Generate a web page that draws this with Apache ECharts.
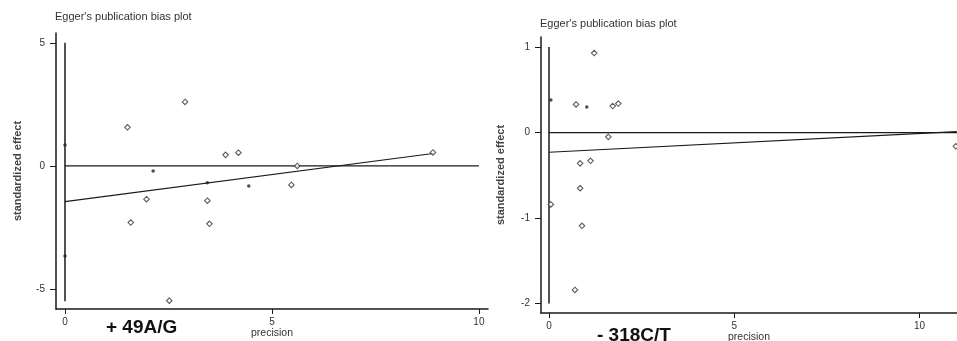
<!DOCTYPE html>
<html>
<head>
<meta charset="utf-8">
<script src="https://cdn.jsdelivr.net/npm/echarts@6/dist/echarts.min.js"></script>
<style>
html,body{margin:0;padding:0;background:#fff;}
#c{width:957px;height:341px;}
</style>
</head>
<body>
<div id="c"></div>
<script>
// ---- Left panel (+49A/G) ----
const leftOpenX = [1.51, 2.90, 1.97, 1.59, 3.44, 3.49, 3.88, 4.19, 5.47, 5.61, 2.52, 8.89];
const leftOpenY = [1.57, 2.60, -1.35, -2.30, -1.41, -2.35, 0.45, 0.54, -0.77, 0.0, -5.47, 0.55];
const leftDotX = [0.0, 0.0, 2.13, 3.44, 4.44];
const leftDotY = [0.85, -3.66, -0.20, -0.68, -0.81];
const leftCI = [5.0, -5.5];          // vertical bar at precision 0
const leftReg = [-1.45, 0.22];       // intercept, slope
const leftRegX = [0, 8.89];
const leftZeroX = [0, 10];
const leftYTicks = [-5, 0, 5];
const leftXTicks = [0, 5, 10];

// ---- Right panel (-318C/T) ----
const rightOpenX = [1.22, 0.73, 1.72, 1.87, 1.60, 0.84, 1.12, 0.84, 0.05, 0.89, 0.70, 10.98];
const rightOpenY = [0.93, 0.33, 0.31, 0.34, -0.05, -0.36, -0.33, -0.65, -0.84, -1.09, -1.84, -0.16];
const rightDotX = [0.05, 1.02];
const rightDotY = [0.38, 0.30];
const rightCI = [1.0, -2.0];
const rightReg = [-0.23, 0.022];
const rightRegX = [0, 11];
const rightZeroX = [0, 11.1];
const rightYTicks = [-2, -1, 0, 1];
const rightXTicks = [0, 5, 10];

const titleText = "Egger's publication bias plot";
const yName = 'standardized effect';
const xName = 'precision';
const labels = ['+ 49A/G', '- 318C/T'];

const ink = '#1a1a1a';
const txt = '#333';
const font = '"Liberation Sans", Arial, sans-serif';

function zip(a, b) { return a.map((v, i) => [v, b[i]]); }
function regLine(xs, r) { return xs.map(x => [x, r[0] + r[1] * x]); }

function mkX(idx, min, max, ticks) {
  return {
    type: 'value', gridIndex: idx, min: min, max: max,
    name: xName, nameLocation: 'middle', nameGap: 19, nameMoveOverlap: false,
    nameTextStyle: { fontFamily: font, fontSize: 10.5, color: txt },
    splitLine: { show: false },
    axisLine: { show: true, onZero: false, lineStyle: { color: ink, width: 1.5 } },
    axisTick: { show: true, length: 5, customValues: ticks, lineStyle: { color: ink } },
    axisLabel: { customValues: ticks, margin: 8, fontFamily: font, fontSize: 10, color: txt }
  };
}
function mkY(idx, min, max, ticks, gap) {
  return {
    type: 'value', gridIndex: idx, min: min, max: max,
    name: yName, nameLocation: 'middle', nameGap: gap, nameRotate: 90, nameMoveOverlap: false,
    nameTextStyle: { fontFamily: font, fontSize: 11, fontWeight: 'bold', color: '#444' },
    splitLine: { show: false },
    axisLine: { show: true, onZero: false, lineStyle: { color: ink, width: 1.5 } },
    axisTick: { show: true, length: 6, customValues: ticks, lineStyle: { color: ink } },
    axisLabel: { customValues: ticks, margin: 11, fontFamily: font, fontSize: 10, color: txt }
  };
}
function lineS(idx, data, w) {
  return { type: 'line', xAxisIndex: idx, yAxisIndex: idx, data: data, symbol: 'none',
    silent: true, lineStyle: { color: ink, width: w || 1.2 }, z: 2 };
}
function openS(idx, data) {
  return { type: 'scatter', xAxisIndex: idx, yAxisIndex: idx, data: data, symbol: 'diamond',
    symbolSize: 5.5, itemStyle: { color: '#fff', borderColor: '#333', borderWidth: 1.1 }, z: 3 };
}
function dotS(idx, data) {
  return { type: 'scatter', xAxisIndex: idx, yAxisIndex: idx, data: data, symbol: 'circle',
    symbolSize: 3.5, itemStyle: { color: '#222' }, z: 3 };
}

const chart = echarts.init(document.getElementById('c'), null, { renderer: 'canvas' });
chart.setOption({
  backgroundColor: '#fff',
  animation: false,
  title: [
    { text: titleText, left: 55, top: 11, padding: 0, textStyle: { fontFamily: font, fontSize: 11, fontWeight: 'normal', color: txt } },
    { text: titleText, left: 540, top: 18, padding: 0, textStyle: { fontFamily: font, fontSize: 11, fontWeight: 'normal', color: txt } },
    { text: labels[0], left: 106, top: 318, padding: 0, textStyle: { fontFamily: font, fontSize: 19, fontWeight: 'bold', color: '#111' } },
    { text: labels[1], left: 597, top: 326, padding: 0, textStyle: { fontFamily: font, fontSize: 19, fontWeight: 'bold', color: '#111' } }
  ],
  grid: [
    { left: 56, top: 33, width: 432, height: 276, containLabel: false, outerBoundsMode: 'none' },
    { left: 541, top: 37, width: 416, height: 276, containLabel: false, outerBoundsMode: 'none' }
  ],
  xAxis: [mkX(0, -0.217, 10.22, leftXTicks), mkX(1, -0.216, 11.01, rightXTicks)],
  yAxis: [mkY(0, -5.81, 5.4, leftYTicks, 33), mkY(1, -2.11, 1.118, rightYTicks, 35)],
  series: [
    lineS(0, [[0, leftCI[0]], [0, leftCI[1]]], 1.5),
    lineS(0, leftZeroX.map(x => [x, 0]), 1.2),
    lineS(0, regLine(leftRegX, leftReg), 1.2),
    openS(0, zip(leftOpenX, leftOpenY)),
    dotS(0, zip(leftDotX, leftDotY)),
    lineS(1, [[0, rightCI[0]], [0, rightCI[1]]], 1.5),
    lineS(1, rightZeroX.map(x => [x, 0]), 1.2),
    lineS(1, regLine(rightRegX, rightReg), 1.2),
    openS(1, zip(rightOpenX, rightOpenY)),
    dotS(1, zip(rightDotX, rightDotY))
  ]
});
</script>
</body>
</html>
